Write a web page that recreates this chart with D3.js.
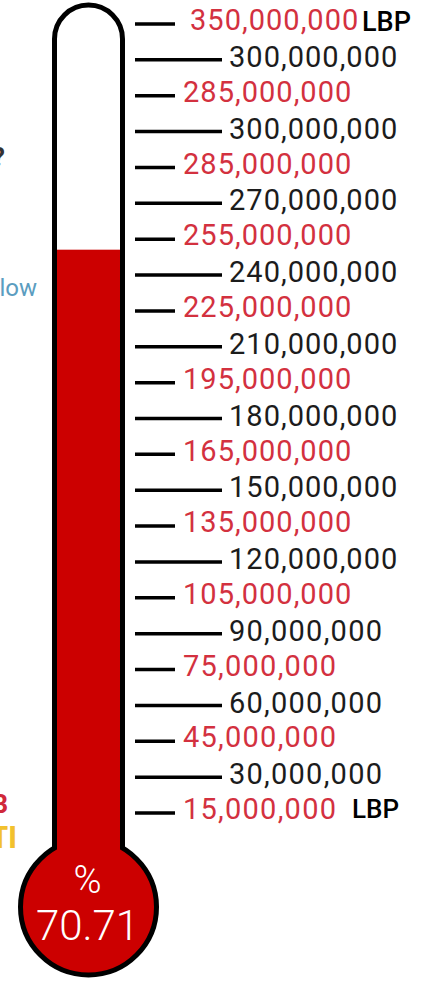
<!DOCTYPE html>
<html>
<head>
<meta charset="utf-8">
<script src="https://cdn.jsdelivr.net/npm/d3@7"></script>
<style>
  html, body { margin: 0; padding: 0; background: #fff; overflow: hidden; }
  svg { display: block; }
</style>
</head>
<body>
<svg id="chart"></svg>
<script>
// tick labels, top to bottom (LBP)
const tickValues = [350000000, 300000000, 285000000, 300000000, 285000000, 270000000,
  255000000, 240000000, 225000000, 210000000, 195000000, 180000000, 165000000,
  150000000, 135000000, 120000000, 105000000, 90000000, 75000000, 60000000,
  45000000, 30000000, 15000000];
const percentRaised = 70.71;
const unitLabel = 'LBP';

const W = 431, H = 982;
const svg = d3.select('#chart').attr('width', W).attr('height', H);

const RED = '#cc0000';
const LABEL_RED = '#d3313f';
const INK = '#1c1c1c';

// clipped fragments of neighbouring page text at the left edge
svg.append('text').attr('x', -8).attr('y', 166).attr('font-family', 'Roboto')
  .attr('font-weight', 700).attr('font-size', 26).attr('fill', '#333').text('?');
svg.append('text').attr('x', 37).attr('y', 296).attr('text-anchor', 'end')
  .attr('font-family', 'Roboto').attr('font-size', 24).attr('fill', '#5b9dc0').text('low');
svg.append('text').attr('x', 8).attr('y', 813).attr('text-anchor', 'end')
  .attr('font-family', 'Roboto').attr('font-weight', 700).attr('font-size', 26)
  .attr('fill', '#d0283a').text('B');
svg.append('text').attr('x', 17).attr('y', 848).attr('text-anchor', 'end')
  .attr('font-family', 'Roboto Condensed, Roboto').attr('font-weight', 700).attr('font-size', 32)
  .attr('fill', '#f2c12e').text('TI');

// thermometer geometry
const cx = 88.5, tubeR = 34, tubeTop = 39, stroke = 5;
const bulbCy = 907, bulbR = 68;
const joinY = bulbCy - Math.sqrt(bulbR * bulbR - tubeR * tubeR);

// fill level scale: percent -> y
const yFill = d3.scaleLinear().domain([0, 100]).range([838, 6]);

const therm = svg.append('g');

// tube (white)
therm.append('path')
  .attr('d', `M${cx - tubeR},${joinY + 10} L${cx - tubeR},${tubeTop}
    A${tubeR},${tubeR} 0 0 1 ${cx + tubeR},${tubeTop} L${cx + tubeR},${joinY + 10}`)
  .attr('fill', '#fff').attr('stroke', '#000').attr('stroke-width', stroke);

// bulb
therm.append('circle')
  .attr('cx', cx).attr('cy', bulbCy).attr('r', bulbR)
  .attr('fill', RED).attr('stroke', '#000').attr('stroke-width', stroke);

// mercury
therm.append('rect')
  .attr('x', cx - tubeR + stroke / 2).attr('width', 2 * tubeR - stroke)
  .attr('y', yFill(percentRaised))
  .attr('height', bulbCy - yFill(percentRaised))
  .attr('fill', RED);

// bulb text
therm.append('text').attr('x', cx - 1).attr('y', 893).attr('text-anchor', 'middle')
  .attr('font-family', 'Roboto').attr('font-weight', 300).attr('font-size', 38)
  .attr('fill', '#fff').text('%');
therm.append('text').attr('x', cx - 1).attr('y', 940).attr('text-anchor', 'middle')
  .attr('font-family', 'Roboto').attr('font-weight', 300).attr('font-size', 42)
  .attr('fill', '#fff').text(percentRaised.toFixed(2));

// scale ticks
const y = d3.scalePoint().domain(d3.range(tickValues.length)).range([24, 813]);
const fmt = d3.format(',');
const ticks = svg.append('g').selectAll('g')
  .data(tickValues.map((v, i) => ({ v, i, red: i % 2 === 0 })))
  .join('g')
    .attr('transform', d => `translate(0,${y(d.i)})`);

ticks.append('line')
  .attr('x1', 135)
  .attr('x2', d => d.red ? 175 : 222)
  .attr('stroke', '#000').attr('stroke-width', 3.5);

ticks.append('text')
  .attr('x', d => d.red ? (d.i === 0 ? 190 : 183) : 229)
  .attr('y', d => d.red ? -4 : -3)
  .attr('dy', '0.35em')
  .attr('font-family', 'Roboto')
  .attr('font-size', 29)
  .attr('fill', d => d.red ? LABEL_RED : INK)
  .attr('textLength', d => fmt(d.v).length * 15.3)
  .attr('lengthAdjust', 'spacing')
  .text(d => fmt(d.v));

// currency units
svg.append('text').attr('x', 362).attr('y', 31)
  .attr('font-family', 'Roboto').attr('font-weight', 500).attr('font-size', 27)
  .attr('fill', '#000').text(unitLabel);
svg.append('text').attr('x', 352).attr('y', 818)
  .attr('font-family', 'Roboto').attr('font-weight', 500).attr('font-size', 26)
  .attr('fill', '#000').text(unitLabel);
</script>
</body>
</html>
